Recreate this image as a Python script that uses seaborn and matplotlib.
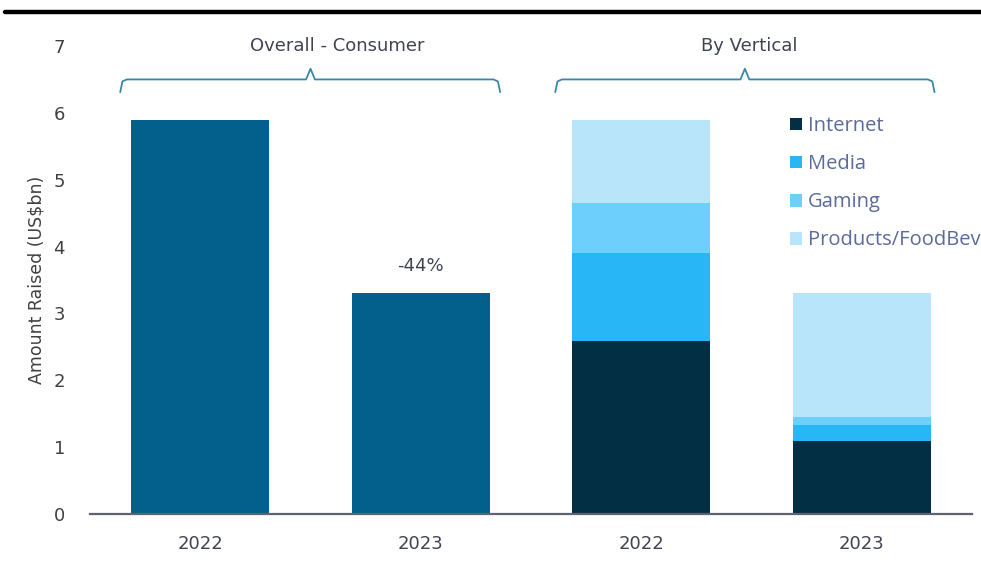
import matplotlib
matplotlib.use("Agg")
import matplotlib.pyplot as plt
from matplotlib.lines import Line2D
from matplotlib.patches import Patch
import numpy as np
import pandas as pd
import seaborn as sns

# ---- data (US$bn) ----
years = ["2022", "2023"]
groups = ["Overall - Consumer", "By Vertical"]
overall = [5.90, 3.30]
internet = [2.59, 1.09]
media = [1.31, 0.24]
gaming = [0.75, 0.12]
products = [1.25, 1.85]
segments = ["Internet", "Media", "Gaming", "Products/FoodBev"]
y_ticks = [0, 1, 2, 3, 4, 5, 6, 7]

seg_colors = {"Internet": "#032f45", "Media": "#29b6f6",
              "Gaming": "#6dcffb", "Products/FoodBev": "#b9e5fb"}
overall_color = "#03608c"
bracket_color = "#3a86a8"
text_color = "#3f4352"

sns.set_theme(style="white")
plt.rcParams["font.family"] = ["DejaVu Sans"]

fig = plt.figure(figsize=(9.81, 5.69), dpi=100)
ax = fig.add_axes([90 / 981, 1 - 514 / 569, 882 / 981, 468 / 569])

slots = ["o2022", "o2023", "v2022", "v2023"]
width = 0.626

# overall bars
df_overall = pd.DataFrame({"slot": slots[:2], "value": overall})
sns.barplot(data=df_overall, x="slot", y="value", order=slots,
            color=overall_color, width=width, saturation=1, ax=ax,
            linewidth=0)

# stacked vertical bars: draw cumulative totals from the top layer down
layers = [internet, media, gaming, products]
cum = np.cumsum(np.array(layers), axis=0)
for name, tops in reversed(list(zip(segments, cum))):
    df_seg = pd.DataFrame({"slot": slots[2:], "value": tops})
    sns.barplot(data=df_seg, x="slot", y="value", order=slots,
                color=seg_colors[name], width=width, saturation=1, ax=ax,
                linewidth=0)

ax.set_xlim(-0.5, 3.5)
ax.set_ylim(0, 7)
ax.set_yticks(y_ticks)
ax.set_yticklabels([str(t) for t in y_ticks])
ax.set_xticks(range(4))
ax.set_xticklabels(years + years)
ax.tick_params(axis="y", length=0, pad=18, labelsize=13, labelcolor="#404040")
ax.tick_params(axis="x", length=0, pad=15, labelsize=13, labelcolor=text_color)
ax.set_xlabel("")
ax.set_ylabel("Amount Raised (US$bn)", fontsize=12.5, color="#404040", labelpad=6)
for s in ["top", "right", "left"]:
    ax.spines[s].set_visible(False)
ax.spines["bottom"].set_color("#5f6270")
ax.spines["bottom"].set_linewidth(1.6)

# percent change label
change = (overall[1] / overall[0] - 1) * 100
ax.text(1, overall[1] + 0.28, f"{change:.0f}%", ha="center", va="bottom",
        fontsize=13, color=text_color)

# group brackets with titles
def bracket(x0, x1, xc, title, tx):
    xs = [x0, x0 + 0.01, x0 + 0.03, xc - 0.02, xc, xc + 0.02, x1 - 0.03, x1 - 0.01, x1]
    ys = [6.31, 6.47, 6.50, 6.50, 6.66, 6.50, 6.50, 6.47, 6.31]
    ax.plot(xs, ys, color=bracket_color, lw=1.3, clip_on=False,
            solid_joinstyle="round")
    ax.text(tx, 7.0, title, ha="center", va="center", fontsize=13,
            color=text_color, clip_on=False)

bracket(-0.363, 1.36, 0.50, groups[0], 0.62)
bracket(1.61, 3.33, 2.47, groups[1], 2.49)

# legend
handles = [Patch(facecolor=seg_colors[s], edgecolor="none") for s in segments]
leg = ax.legend(handles, segments, loc="upper left",
                bbox_to_anchor=(782 / 981, 1 - 108 / 569),
                bbox_transform=fig.transFigure, frameon=False,
                handlelength=0.6, handleheight=0.6, handletextpad=0.3,
                labelspacing=0.9, borderaxespad=0,
                prop={"family": ["Open Sans", "DejaVu Sans"], "size": 14.5})
for t in leg.get_texts():
    t.set_color("#5b6a9c")

# top rule
fig.add_artist(Line2D([5 / 981, 1.0], [1 - 12 / 569] * 2, color="black", lw=3.2))

fig.savefig("out.png", dpi=100, facecolor="white")
